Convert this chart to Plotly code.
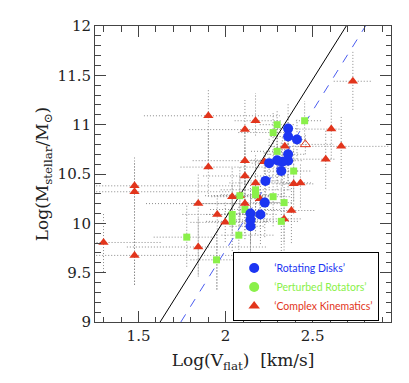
import plotly.graph_objects as go

# 'Rotating Disks'
rd_x = [2.359, 2.359, 2.41, 2.359, 2.359, 2.326, 2.296, 2.25, 2.32, 2.229, 2.225, 2.2, 2.143, 2.143, 2.143]
rd_y = [10.96, 10.88, 10.85, 10.70, 10.635, 10.625, 10.64, 10.61, 10.53, 10.43, 10.21, 10.09, 10.10, 10.035, 9.97]
rd_xm = [0.08, 0.10, 0.06, 0.12, 0.10, 0.12, 0.15, 0.10, 0.10, 0.12, 0.10, 0.12, 0.15, 0.10, 0.12]
rd_xp = [0.06, 0.08, 0.05, 0.10, 0.08, 0.06, 0.10, 0.08, 0.10, 0.10, 0.08, 0.10, 0.10, 0.12, 0.08]
rd_ym = [0.25, 0.20, 0.20, 0.30, 0.30, 0.25, 0.30, 0.25, 0.30, 0.30, 0.35, 0.30, 0.30, 0.35, 0.30]
rd_yp = [0.25, 0.20, 0.20, 0.30, 0.25, 0.25, 0.30, 0.25, 0.30, 0.30, 0.30, 0.30, 0.30, 0.30, 0.30]

# 'Perturbed Rotators'
pr_x = [2.296, 2.273, 2.454, 2.296, 2.391, 2.172, 2.172, 2.082, 2.273, 2.336, 2.111, 2.038, 2.038, 2.32, 2.076, 1.777, 1.948]
pr_y = [11.0, 10.92, 11.04, 10.73, 10.53, 10.34, 10.29, 10.28, 10.27, 10.21, 10.14, 10.09, 10.02, 10.02, 9.88, 9.86, 9.63]
pr_xm = [0.10, 0.20, 0.05, 0.15, 0.10, 0.20, 0.20, 0.20, 0.10, 0.10, 0.20, 0.15, 0.15, 0.10, 0.10, 0.19, 0.15]
pr_xp = [0.10, 0.10, 0.10, 0.10, 0.10, 0.20, 0.15, 0.20, 0.10, 0.05, 0.20, 0.10, 0.20, 0.10, 0.20, 0.16, 0.10]
pr_ym = [0.30, 0.30, 0.20, 0.30, 0.30, 0.30, 0.40, 0.30, 0.30, 0.40, 0.30, 0.20, 0.30, 0.30, 0.30, 0.30, 0.30]
pr_yp = [0.15, 0.20, 0.20, 0.30, 0.30, 0.30, 0.30, 0.30, 0.30, 0.30, 0.30, 0.30, 0.30, 0.30, 0.30, 0.34, 0.27]

# 'Complex Kinematics'
ck_x = [2.731, 1.901, 2.172, 2.111, 2.607, 2.664, 2.34, 2.575, 2.111, 1.901, 2.111, 2.172, 2.391, 2.43,
        1.477, 1.477, 2.038, 2.082, 1.843, 2.111, 2.197, 2.378, 1.952, 1.998, 2.336, 1.299, 1.843, 1.477, 2.222]
ck_y = [11.44, 11.09, 11.04, 10.95, 10.955, 10.78, 10.78, 10.65, 10.635, 10.57, 10.48, 10.41, 10.40, 10.41,
        10.38, 10.32, 10.27, 10.28, 10.20, 10.20, 10.25, 10.13, 10.09, 10.01, 10.045, 9.806, 9.76, 9.675, 10.625]
ck_xm = [0.11, 0.37, 0.12, 0.32, 0.20, 0.20, 0.08, 0.18, 0.30, 0.16, 0.24, 0.15, 0.10, 0.10,
         0.22, 0.22, 0.12, 0.15, 0.30, 0.30, 0.05, 0.15, 0.20, 0.20, 0.10, 0.04, 0.41, 0.22, 0.05]
ck_xp = [0.11, 0.41, 0.15, 0.20, 0.05, 0.27, 0.10, 0.05, 0.28, 0.45, 0.26, 0.20, 0.12, 0.06,
         0.60, 0.55, 0.15, 0.20, 0.24, 0.25, 0.05, 0.14, 0.15, 0.25, 0.10, 0.33, 0.40, 0.60, 0.05]
ck_ym = [0.29, 0.45, 0.15, 0.50, 0.30, 0.32, 0.25, 0.30, 0.30, 0.30, 0.30, 0.40, 0.30, 0.25,
         1.00, 0.30, 0.30, 0.25, 0.72, 0.30, 0.10, 0.33, 0.76, 0.20, 0.35, 0.30, 0.30, 0.30, 0.10]
ck_yp = [0.30, 0.28, 0.28, 0.30, 0.30, 0.30, 0.20, 0.30, 0.30, 0.35, 0.30, 0.30, 0.20, 0.20,
         0.30, 0.30, 0.30, 0.20, 0.30, 0.30, 0.10, 0.30, 0.20, 0.20, 0.30, 0.30, 0.30, 0.30, 0.10]

# open triangle
op_x = [2.458]
op_y = [10.80]
op_xm = [0.05]
op_xp = [0.16]
op_ym = [0.10]
op_yp = [0.10]

# Tully-Fisher fits: y = a + b*x
fit_black = (4.443, 2.806)
fit_blue = (4.071, 2.828)

BLUE = "#1c35f2"
GREEN = "#8af04a"
RED = "#e2351c"

# dotted error bars
ex, ey = [], []
for xs, ys, xm, xp, ym, yp in [(rd_x, rd_y, rd_xm, rd_xp, rd_ym, rd_yp),
                               (pr_x, pr_y, pr_xm, pr_xp, pr_ym, pr_yp),
                               (ck_x, ck_y, ck_xm, ck_xp, ck_ym, ck_yp),
                               (op_x, op_y, op_xm, op_xp, op_ym, op_yp)]:
    for i in range(len(xs)):
        ex += [xs[i] - xm[i], xs[i] + xp[i], None, xs[i], xs[i], None]
        ey += [ys[i], ys[i], None, ys[i] - ym[i], ys[i] + yp[i], None]

fig = go.Figure()
fig.add_trace(go.Scatter(x=ex, y=ey, mode="lines", line=dict(color="#8a8a8a", width=1, dash="1px,2px"),
                         showlegend=False, hoverinfo="skip"))

for a, b, col, dash in [(fit_black[0], fit_black[1], "black", "solid"), (fit_blue[0], fit_blue[1], "#4a5cf0", "dash")]:
    yy = [9, 12]
    xx = [(v - a) / b for v in yy]
    fig.add_trace(go.Scatter(x=xx, y=yy, mode="lines", line=dict(color=col, width=1, dash=dash), showlegend=False))

fig.add_trace(go.Scatter(x=ck_x, y=ck_y, mode="markers", showlegend=False,
                         marker=dict(symbol="triangle-up", size=9, color=RED, line=dict(width=0))))
fig.add_trace(go.Scatter(x=op_x, y=op_y, mode="markers", showlegend=False,
                         marker=dict(symbol="triangle-up-open", size=9, color=RED, line=dict(width=1))))
fig.add_trace(go.Scatter(x=pr_x, y=pr_y, mode="markers", showlegend=False,
                         marker=dict(symbol="square", size=7, color=GREEN, line=dict(width=0))))
fig.add_trace(go.Scatter(x=rd_x, y=rd_y, mode="markers", showlegend=False,
                         marker=dict(symbol="circle", size=10, color=BLUE, line=dict(width=0))))

# legend entries
for name, col, sym in [("‘Rotating Disks’", BLUE, "circle"),
                       ("‘Perturbed Rotators’", GREEN, "circle"),
                       ("‘Complex Kinematics’", RED, "triangle-up")]:
    fig.add_trace(go.Scatter(x=[None], y=[None], mode="markers",
                             name=f"<span style='color:{col}'>{name}</span>",
                             marker=dict(symbol=sym, size=10, color=col)))

axis_common = dict(showgrid=False, zeroline=False, showline=True, linecolor="#444", linewidth=1,
                   mirror="allticks", ticks="inside", ticklen=11, tickcolor="#444", automargin=False,
                   tickfont=dict(family="DejaVu Serif", size=15, color="#222"))

fig.update_xaxes(range=[1.25, 2.95], tickvals=[1.5, 2, 2.5], ticktext=["1.5", "2", "2.5"],
                 minor=dict(dtick=0.1, tick0=0, ticks="inside", ticklen=5.5, tickcolor="#444"),
                 title=dict(text="Log(V<sub>flat</sub>)  [km/s]", font=dict(family="DejaVu Serif", size=17, color="#222"),
                            standoff=10),
                 **axis_common)
fig.update_yaxes(range=[9, 12], tickvals=[9, 9.5, 10, 10.5, 11, 11.5, 12],
                 ticktext=["9", "9.5", "10", "10.5", "11", "11.5", "12"],
                 minor=dict(dtick=0.1, tick0=0, ticks="inside", ticklen=5.5, tickcolor="#444"),
                 title=dict(text="Log(M<sub>stellar</sub>/M<sub>⊙</sub>)", font=dict(family="DejaVu Serif", size=17, color="#222"),
                            standoff=4),
                 **axis_common)

# page body has an 8px margin, so the plot area is offset by it
fig.update_layout(width=409, height=383, margin=dict(l=87, r=26, t=18, b=69),
                  plot_bgcolor="white", paper_bgcolor="white",
                  legend=dict(x=0.96, y=0.235, xanchor="right", yanchor="top", bgcolor="white",
                              bordercolor="black", borderwidth=1, font=dict(family="Lato", size=10.5),
                              itemwidth=30, tracegroupgap=0))

fig.write_html("out.html")
